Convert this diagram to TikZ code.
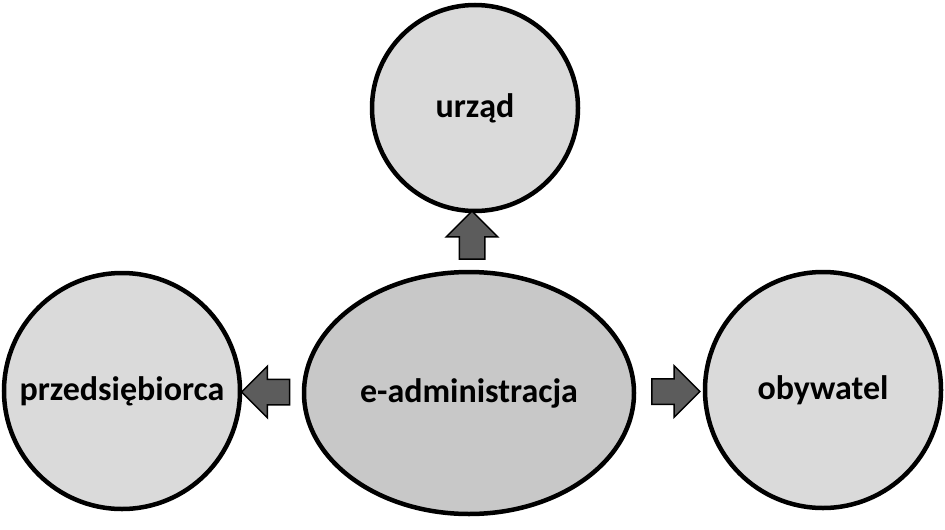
\documentclass[tikz,border=0pt]{standalone}
\usepackage{fontspec}
\setmainfont{Carlito}
\usetikzlibrary{positioning,calc,shapes.geometric,shapes.arrows}
\definecolor{Disc}{HTML}{DADADA}
\definecolor{Hub}{HTML}{C8C8C8}
\definecolor{Pointer}{HTML}{5C5C5C}
\begin{document}
\begin{tikzpicture}[
        x=1pt, y=-1pt,
        party/.style={circle, draw=black, line width=4.5pt, fill=Disc,
                      font=\fontsize{34}{40}\selectfont\bfseries, inner sep=0pt},
        hub/.style={ellipse, draw=black, line width=4.5pt, fill=Hub,
                    font=\fontsize{34}{40}\selectfont\bfseries, inner sep=0pt,
                    minimum width=330pt, minimum height=242pt},
        pointer/.style={single arrow, draw=black, line width=1.5pt, fill=Pointer,
                        inner xsep=0pt, inner ysep=12pt,
                        single arrow head extend=13pt, minimum height=48pt}
      ]
        \useasboundingbox (0,0) rectangle (945,530);
        \node[hub] (eadm) at (469,393) {e-administracja};
        \node[party, minimum size=206pt] (office) at (475,108) {urząd};
        \node[party, minimum size=236pt] (firm) at (122,391) {przedsiębiorca};
        \node[party, minimum size=236pt] (citizen) at (823,390) {obywatel};
        \node[pointer, rotate=90] (toOffice)
          at ($(eadm.north)!0.5!(office.south)$) {};
        \node[pointer, rotate=180] (toFirm)
          at ($(eadm.west)!0.5!(firm.east)$) {};
        \node[pointer] (toCitizen)
          at ($(eadm.east)!0.5!(citizen.west)$) {};
      \end{tikzpicture}
\end{document}
